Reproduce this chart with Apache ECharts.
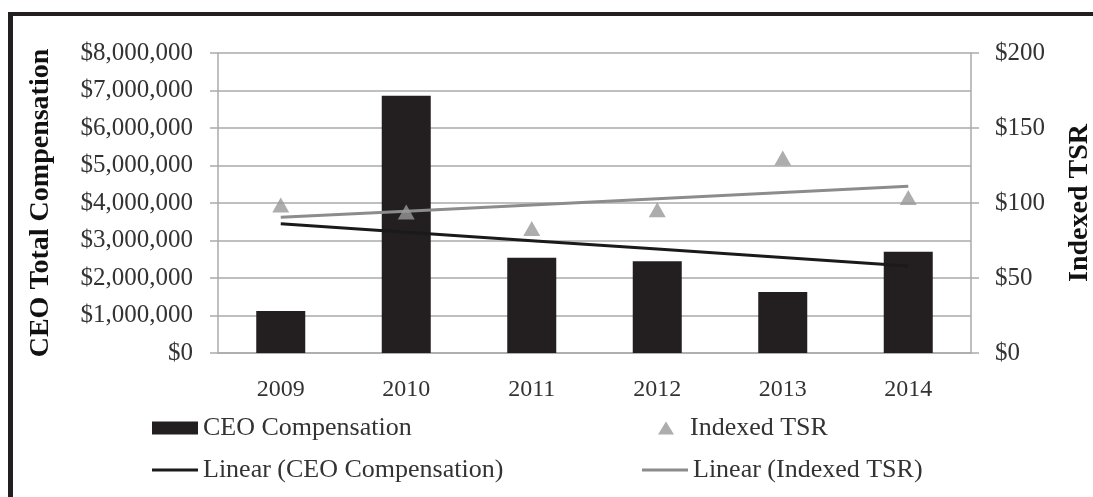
<!DOCTYPE html>
<html>
<head>
<meta charset="utf-8">
<script src="https://cdn.jsdelivr.net/npm/echarts@6/dist/echarts.min.js"></script>
<style>
  html, body { margin: 0; padding: 0; background: #fff; }
  #frame {
    position: absolute; left: 8px; top: 12px; width: 1100px; height: 500px;
    border-left: 5px solid #231f20; border-top: 4px solid #231f20;
  }
  #chart { position: absolute; left: 0; top: 0; width: 1093px; height: 497px; }
</style>
</head>
<body>
<div id="frame"></div>
<div id="chart"></div>
<script>
// values
const years = ['2009', '2010', '2011', '2012', '2013', '2014']
const ceoCompensation = [1120000, 6860000, 2540000, 2450000, 1630000, 2700000]
const indexedTSR = [98.7, 94, 83, 95.5, 130, 103.7]
const compTicks = { min: 0, max: 8000000, interval: 1000000 }
const tsrTicks = { min: 0, max: 200, interval: 50 }

// least squares line, same as the Excel "Linear" trendline
function linearFit(values) {
  const n = values.length
  const mx = (n - 1) / 2
  const my = values.reduce((a, b) => a + b, 0) / n
  let sxy = 0, sxx = 0
  values.forEach((v, i) => {
    sxy += (i - mx) * (v - my)
    sxx += (i - mx) * (i - mx)
  })
  const slope = sxy / sxx
  return values.map((v, i) => my + slope * (i - mx))
}

const serif = '"Liberation Serif", "Times New Roman", serif'
const gridColor = '#aaaaaa'
const labelStyle = { fontFamily: serif, fontSize: 25, color: '#333' }
const nameStyle = { fontFamily: serif, fontSize: 28, fontWeight: 'bold', color: '#111' }
const legendText = { fontFamily: serif, fontSize: 26, color: '#333' }

const chart = echarts.init(document.getElementById('chart'))
chart.setOption({
  animation: false,
  grid: { left: 218, right: 122, top: 53, bottom: 144, containLabel: false, outerBoundsMode: 'none' },
  legend: [
    { data: ['CEO Compensation'], left: 147, top: 410, icon: 'rect', itemWidth: 46, itemHeight: 13, textStyle: legendText },
    { data: ['Indexed TSR'], left: 653, top: 410, icon: 'triangle', itemWidth: 16, itemHeight: 13,
      textStyle: Object.assign({ padding: [0, 0, 0, 11] }, legendText) },
    { data: ['Linear (CEO Compensation)'], left: 147, top: 452, icon: 'rect', itemWidth: 46, itemHeight: 3, textStyle: legendText },
    { data: ['Linear (Indexed TSR)'], left: 637, top: 452, icon: 'rect', itemWidth: 46, itemHeight: 3, textStyle: legendText }
  ],
  xAxis: {
    type: 'category',
    data: years,
    axisLine: { show: true, lineStyle: { color: gridColor, width: 1.5 } },
    axisTick: { show: false },
    axisLabel: Object.assign({}, labelStyle, { margin: 25, fontSize: 24 })
  },
  yAxis: [
    {
      type: 'value',
      min: compTicks.min, max: compTicks.max, interval: compTicks.interval,
      name: 'CEO Total Compensation',
      nameLocation: 'middle',
      nameRotate: 90,
      nameGap: 163,
      nameTextStyle: nameStyle,
      axisLine: { show: true, lineStyle: { color: gridColor, width: 1.5 } },
      axisTick: { show: true, inside: false, length: 8, lineStyle: { color: gridColor, width: 1.5 } },
      splitLine: { show: true, lineStyle: { color: gridColor, width: 1.5 } },
      axisLabel: Object.assign({ margin: 25, formatter: v => '$' + v.toLocaleString('en-US') }, labelStyle)
    },
    {
      type: 'value',
      position: 'right',
      min: tsrTicks.min, max: tsrTicks.max, interval: tsrTicks.interval,
      name: 'Indexed TSR',
      nameLocation: 'middle',
      nameRotate: 90,
      nameGap: 95,
      nameTextStyle: nameStyle,
      axisLine: { show: true, lineStyle: { color: gridColor, width: 1.5 } },
      axisTick: { show: true, inside: false, length: 8, lineStyle: { color: gridColor, width: 1.5 } },
      splitLine: { show: false },
      axisLabel: Object.assign({ margin: 24, formatter: v => '$' + v }, labelStyle)
    }
  ],
  series: [
    {
      name: 'CEO Compensation',
      type: 'bar',
      yAxisIndex: 0,
      barWidth: 49,
      itemStyle: { color: '#231f20' },
      data: ceoCompensation
    },
    {
      name: 'Indexed TSR',
      type: 'scatter',
      yAxisIndex: 1,
      symbol: 'triangle',
      symbolSize: [17, 15],
      itemStyle: { color: '#999999' },
      z: 4,
      data: indexedTSR
    },
    {
      name: 'Linear (CEO Compensation)',
      type: 'line',
      yAxisIndex: 0,
      symbol: 'none',
      lineStyle: { color: '#1a1a1a', width: 3 },
      itemStyle: { color: '#1a1a1a' },
      z: 3,
      data: linearFit(ceoCompensation)
    },
    {
      name: 'Linear (Indexed TSR)',
      type: 'line',
      yAxisIndex: 1,
      symbol: 'none',
      lineStyle: { color: '#8c8c8c', width: 3 },
      itemStyle: { color: '#8c8c8c' },
      z: 3,
      data: linearFit(indexedTSR)
    }
  ]
})
</script>
</body>
</html>
